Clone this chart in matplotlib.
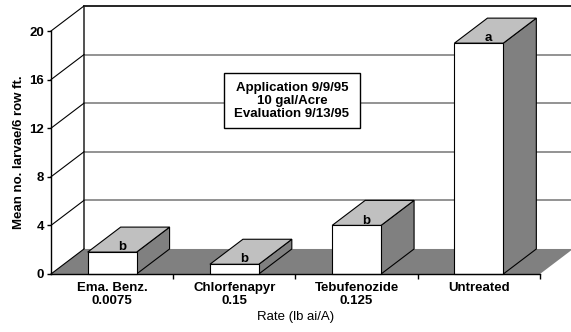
import matplotlib
matplotlib.use("Agg")
import matplotlib.pyplot as plt
from matplotlib.patches import Polygon, Rectangle

plt.rcParams['font.family'] = ['Liberation Sans', 'DejaVu Sans']

# treatments and mean counts
categories = ['Ema. Benz.\n0.0075', 'Chlorfenapyr\n0.15', 'Tebufenozide\n0.125', 'Untreated']
means = [1.8, 0.8, 4.0, 19.0]
letters = ['b', 'b', 'b', 'a']
yticks = [0, 4, 8, 12, 16, 20]

# pseudo-3d depth, in data units (x: category, y: count)
DX = 0.27
DY = 2.06
BAR_W = 0.40
SIDE = '#808080'
TOP = '#c0c0c0'


def main():
    fig = plt.figure(figsize=(5.71, 3.32), dpi=100)
    ax = fig.add_axes([0.0893, 0.1747, 0.8564, 0.7319])
    n = len(categories)
    ax.set_xlim(0, n)
    ax.set_ylim(0, yticks[-1])

    # back wall with gridlines
    for t in yticks[1:-1]:
        ax.plot([DX, n + DX], [t + DY, t + DY], color='#808080', lw=1.2,
                clip_on=False, zorder=1)
    ax.plot([DX, n + DX], [yticks[-1] + DY] * 2, color='black', lw=1.2,
            clip_on=False, zorder=1)
    ax.plot([DX, DX], [DY, yticks[-1] + DY], color='#333333', lw=1.2,
            clip_on=False, zorder=1)

    # left wall diagonals from each tick
    for t in yticks:
        ax.plot([0, DX], [t, t + DY], color='black', lw=0.8,
                clip_on=False, zorder=3)

    # floor
    floor = Polygon([(0, 0), (n, 0), (n + DX, DY), (DX, DY)], closed=True,
                    facecolor=SIDE, edgecolor='none', clip_on=False, zorder=2)
    ax.add_patch(floor)

    # note box
    ax.add_patch(Rectangle((1.415, 11.99), 1.113, 4.53, facecolor='white',
                           edgecolor='black', lw=1.0, zorder=2.5))
    ax.text(1.97, 14.25, 'Application 9/9/95\n10 gal/Acre\nEvaluation 9/13/95',
            ha='center', va='center', fontsize=9.5, fontweight='bold',
            linespacing=1.08, zorder=2.6)

    # bars
    for i, (v, lab) in enumerate(zip(means, letters)):
        x0 = i + 0.5 - BAR_W / 2
        x1 = x0 + BAR_W
        side = Polygon([(x1, 0), (x1 + DX, DY), (x1 + DX, v + DY), (x1, v)],
                       closed=True, facecolor=SIDE, edgecolor='black', lw=0.8,
                       clip_on=False, zorder=4)
        top = Polygon([(x0, v), (x1, v), (x1 + DX, v + DY), (x0 + DX, v + DY)],
                      closed=True, facecolor=TOP, edgecolor='black', lw=0.8,
                      clip_on=False, zorder=4)
        front = Rectangle((x0, 0), BAR_W, v, facecolor='white',
                          edgecolor='black', lw=0.8, clip_on=False, zorder=5)
        ax.add_patch(side)
        ax.add_patch(top)
        ax.add_patch(front)
        ax.text(i + 0.5 + 0.3 * DX, v + 0.15, lab, ha='center',
                va='baseline', fontsize=9.5, fontweight='bold', zorder=6)

    # axes
    for s in ['top', 'right']:
        ax.spines[s].set_visible(False)
    ax.spines['left'].set_linewidth(1.0)
    ax.spines['bottom'].set_linewidth(1.0)
    ax.spines['left'].set_zorder(6)
    ax.spines['bottom'].set_zorder(6)
    ax.patch.set_visible(False)

    ax.set_yticks(yticks)
    ax.set_yticklabels([str(t) for t in yticks], fontsize=9.5, fontweight='bold')
    ax.set_xticks(range(1, n + 1))
    ax.set_xticklabels([])
    ax.set_xticks([i + 0.5 for i in range(n)], minor=True)
    ax.set_xticklabels(categories, minor=True, fontsize=9.5, fontweight='bold',
                       linespacing=1.05)
    ax.tick_params(axis='x', which='minor', length=0, pad=6)
    ax.tick_params(axis='x', which='major', direction='out', length=3.5, width=1.0)
    ax.tick_params(axis='y', direction='out', length=3, width=1.0, pad=2)

    ax.set_xlabel('Rate (lb ai/A)', fontsize=9.5, labelpad=3)
    ax.set_ylabel('Mean no. larvae/6 row ft.', fontsize=9.5, fontweight='bold',
                  labelpad=3)

    fig.savefig('out.png', dpi=100)


if __name__ == "__main__":
    main()
